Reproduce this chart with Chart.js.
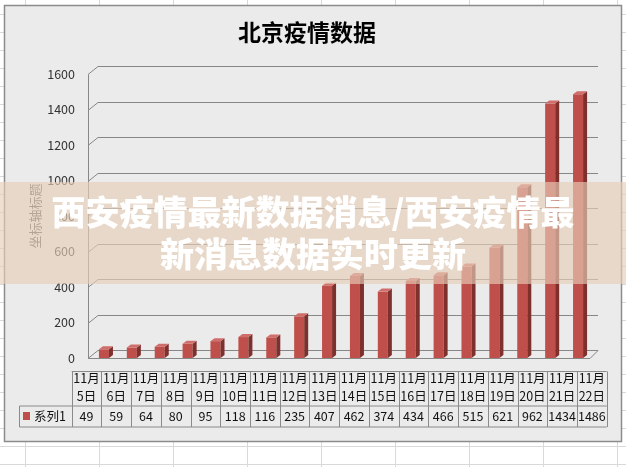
<!DOCTYPE html>
<html>
<head>
<meta charset="utf-8">
<script src="https://cdn.jsdelivr.net/npm/chart.js@4.4.0/dist/chart.umd.min.js"></script>
<style>
html, body { margin: 0; padding: 0; }
body {
    width: 626px; height: 467px; overflow: hidden; position: relative;
    background-color: #fff;
    background-image: linear-gradient(to right, #d9d9d9 1px, transparent 1px),
                      linear-gradient(to bottom, #d9d9d9 1px, transparent 1px);
    background-size: 74px 18px;
    background-position: 25px 14px;
}
#wrap { position: absolute; left: 0; top: 0; width: 626px; height: 467px; }
#banner {
    position: absolute; left: 0; top: 182px; width: 626px; height: 102px;
    box-sizing: border-box; padding-top: 8px;
    background: rgba(231, 206, 185, 0.65);
    color: #fff; text-align: center;
    font-family: "Noto Sans CJK SC", sans-serif; font-weight: 900;
    font-size: 34px; line-height: 42px;
}
</style>
</head>
<body>
<div id="wrap"><canvas id="myChart" width="626" height="467"></canvas></div>
<div id="banner">西安疫情最新数据消息/西安疫情最<br>新消息数据实时更新</div>
<script>
// data
const days = ['11月5日', '11月6日', '11月7日', '11月8日', '11月9日', '11月10日',
    '11月11日', '11月12日', '11月13日', '11月14日', '11月15日', '11月16日',
    '11月17日', '11月18日', '11月19日', '11月20日', '11月21日', '11月22日'];
const cases = [49, 59, 64, 80, 95, 118, 116, 235, 407, 462, 374, 434, 466, 515, 621, 962, 1434, 1486];
const yTicks = [0, 200, 400, 600, 800, 1000, 1200, 1400, 1600];
const seriesName = '系列1';

const cjk = "'Noto Sans CJK SC', sans-serif";
const red = '#bf4f4b';

// draws the excel-like frame, the 3D walls, bar sides and the data table
const excel3d = {
    id: 'excel3d',
    beforeDraw(chart) {
        let c = chart.ctx;
        c.save();
        c.fillStyle = '#ebebeb';
        c.strokeStyle = '#8c8c8c';
        c.lineWidth = 1.5;
        c.fillRect(4.5, 5.5, 617, 436);
        c.strokeRect(4.5, 5.5, 617, 436);
        c.restore();
    },
    beforeDatasetsDraw(chart) {
        let c = chart.ctx, ca = chart.chartArea, y = chart.scales.y;
        let x0 = ca.left - 2, x1 = x0 + 10, xr = ca.right + 6;
        c.save();
        c.strokeStyle = '#878787';
        c.lineWidth = 1;
        c.beginPath();
        yTicks.forEach(v => {
            let py = Math.round(y.getPixelForValue(v)) + 0.5;
            c.moveTo(x0, py);
            c.lineTo(x1, py - 8);
            c.lineTo(xr, py - 8);
        });
        let yb = Math.round(y.getPixelForValue(0)) + 0.5;
        c.moveTo(x0 + 0.5, Math.round(y.getPixelForValue(yTicks[yTicks.length - 1])) + 0.5);
        c.lineTo(x0 + 0.5, yb);
        c.lineTo(ca.right - 2, yb);
        c.lineTo(xr, yb - 8);
        c.stroke();
        c.restore();
    },
    afterDatasetsDraw(chart) {
        let c = chart.ctx, ca = chart.chartArea;
        let meta = chart.getDatasetMeta(0);
        c.save();
        meta.data.forEach(bar => {
            let l = bar.x - bar.width / 2, r = bar.x + bar.width / 2;
            // right side
            c.fillStyle = '#7e302d';
            c.beginPath();
            c.moveTo(r, bar.y);
            c.lineTo(r + 4, bar.y - 3);
            c.lineTo(r + 4, bar.base - 3);
            c.lineTo(r, bar.base);
            c.closePath();
            c.fill();
            // top
            c.fillStyle = '#cf6e6a';
            c.beginPath();
            c.moveTo(l, bar.y);
            c.lineTo(r, bar.y);
            c.lineTo(r + 4, bar.y - 3);
            c.lineTo(l + 4, bar.y - 3);
            c.closePath();
            c.fill();
        });

        // data table under the plot
        let tl = ca.left - 18.3, tr = ca.right + 14.7;
        let cw = (tr - tl) / days.length;
        let top = ca.bottom + 13.5, mid = ca.bottom + 48, bot = ca.bottom + 69;
        let legL = 19.5;
        c.strokeStyle = '#8a8a8a';
        c.lineWidth = 1;
        c.beginPath();
        c.moveTo(tl, top); c.lineTo(tr, top);
        c.moveTo(legL, mid); c.lineTo(tr, mid);
        c.moveTo(legL, bot); c.lineTo(tr, bot);
        c.moveTo(legL, mid); c.lineTo(legL, bot);
        for (let i = 0; i <= days.length; i++) {
            let x = Math.round(tl + i * cw) + 0.5;
            c.moveTo(x, top); c.lineTo(x, bot);
        }
        c.stroke();

        c.fillStyle = '#111';
        c.font = '12.5px ' + cjk;
        c.textAlign = 'center';
        c.textBaseline = 'middle';
        days.forEach((d, i) => {
            let cx = tl + (i + 0.5) * cw;
            let parts = d.split('月');
            c.fillText(parts[0] + '月', cx, top + 7);
            c.fillText(parts[1], cx, top + 25);
            c.fillText(String(cases[i]), cx, mid + 10.5);
        });
        c.fillStyle = red;
        c.fillRect(23, mid + 6, 7, 8);
        c.fillStyle = '#111';
        c.textAlign = 'left';
        c.fillText(seriesName, 34, mid + 10.5);
        c.restore();
    }
};

let ctx = document.getElementById('myChart').getContext('2d');
let chart = new Chart(ctx, {
    type: 'bar',
    data: {
        labels: days,
        datasets: [{
            label: seriesName,
            data: cases,
            backgroundColor: red,
            borderWidth: 0,
            barPercentage: 0.36,
            categoryPercentage: 1
        }]
    },
    options: {
        responsive: false,
        animation: false,
        layout: {
            padding: { left: 22, right: 34, top: 0, bottom: 109 }
        },
        plugins: {
            legend: { display: false },
            tooltip: { enabled: false },
            title: {
                display: true,
                text: '北京疫情数据',
                color: '#000',
                font: { family: cjk, size: 23, weight: 'bold' },
                padding: { top: 18, bottom: 28.4 }
            }
        },
        scales: {
            x: { display: false },
            y: {
                min: 0,
                max: 1600,
                afterFit(scale) { scale.width = 68; },
                afterBuildTicks(scale) { scale.ticks = yTicks.map(v => ({ value: v })); },
                grid: { display: false, drawTicks: false },
                border: { display: false },
                ticks: {
                    padding: 15,
                    color: '#333',
                    font: { family: cjk, size: 12.5 },
                    callback: v => String(v)
                },
                title: {
                    display: true,
                    text: '坐标轴标题',
                    color: '#595959',
                    font: { family: cjk, size: 13 },
                    padding: { top: 5, bottom: 0 }
                }
            }
        }
    },
    plugins: [excel3d]
});
</script>
</body>
</html>
